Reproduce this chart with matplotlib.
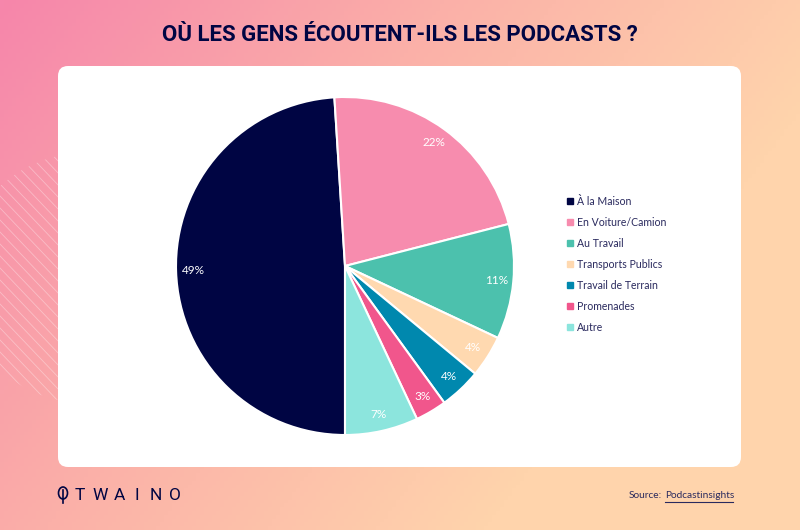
import numpy as np
import matplotlib.pyplot as plt
from matplotlib.colors import LinearSegmentedColormap
from matplotlib.patches import FancyBboxPatch, Circle, Ellipse
from matplotlib.lines import Line2D

# Data
labels = ['À la Maison', 'En Voiture/Camion', 'Au Travail', 'Transports Publics',
          'Travail de Terrain', 'Promenades', 'Autre']
values = [49, 22, 11, 4, 4, 3, 7]
colors = ['#000543', '#F78CAE', '#4CC1AD', '#FFD9B0', '#0088AE', '#F1568C', '#8CE5DD']

navy = '#000543'
W, H = 800, 530
thin = ['Lato', 'DejaVu Sans']

fig = plt.figure(figsize=(W/100, H/100), dpi=100)

# Background in pixel coordinates
bg = fig.add_axes([0, 0, 1, 1])

xx, yy = np.meshgrid(np.linspace(0, 1, 200), np.linspace(0, 1, 140))
grad = np.clip(0.9*xx + 0.45*yy, 0, 1)
cmap = LinearSegmentedColormap.from_list('bg', ['#F686AB', '#FBB0A8', '#FFD4AC'])
bg.imshow(grad, cmap=cmap, extent=(0, W, H, 0), aspect='auto', vmin=0, vmax=1)

# Hatch on the left, clipped to a circle
clip = Circle((85, 278), 125, transform=bg.transData)
for k in np.arange(-200, 600, 12):
    ln, = bg.plot([0, 200], [k, k + 210], color='white', lw=0.6, alpha=0.35)
    ln.set_clip_path(clip)
bg.set_xlim(0, W)
bg.set_ylim(H, 0)
bg.axis('off')

# Card
bg.add_patch(FancyBboxPatch((66, 74), 667, 385, boxstyle='round,pad=8,rounding_size=10',
                            fc='white', ec='none', zorder=3))

bg.text(400, 35, 'OÙ LES GENS ÉCOUTENT-ILS LES PODCASTS ?', ha='center', va='center',
        fontsize=16, fontweight='bold', family='Roboto', color=navy, zorder=4)

# Footer
logo_x = [80, 100, 119, 137, 156, 175]
for x, ch in zip(logo_x, 'TWAINO'):
    bg.text(x, 496, ch, ha='center', va='center', fontsize=12.5, family='Roboto',
            color=navy, zorder=4)
bg.add_patch(Ellipse((63, 493), 9, 12, fc='none', ec=navy, lw=1.2, zorder=4))
bg.plot([63, 63], [490, 503], color=navy, lw=1.2, zorder=4)
bg.text(629, 495, 'Source:', ha='left', va='center', fontsize=7.3, family=thin,
        color='#2A2A5E', zorder=4)
bg.text(665, 495, 'Podcastinsights', ha='left', va='center', fontsize=7.3, family=thin,
        color='#2A2A5E', zorder=4)
bg.plot([665, 733], [502, 502], color='#2A2A5E', lw=0.8, zorder=4)

# Pie, center (345, 266), radius 169 px
r = 169
ax = fig.add_axes([(345 - r)/W, 1 - (266 + r)/H, 2*r/W, 2*r/H])
ax.set_zorder(5)
wedges, texts, autotexts = ax.pie(values, colors=colors, startangle=270, counterclock=False,
                                  radius=1, autopct='%d%%', pctdistance=0.9,
                                  wedgeprops={'edgecolor': 'white', 'linewidth': 1.5},
                                  textprops={'color': 'white', 'fontsize': 8.5, 'family': thin})
ax.set_xlim(-1, 1)
ax.set_ylim(-1, 1)

# Legend
handles = [Line2D([], [], marker='s', ls='none', ms=4.2, color=c) for c in colors]
leg = bg.legend(handles, labels, loc='upper left', bbox_to_anchor=(559.5/W, 1 - 196/H),
                frameon=False, fontsize=7.6, labelspacing=0.95, handletextpad=-0.33,
                borderpad=0, borderaxespad=0)
leg.set_zorder(6)
for t in leg.get_texts():
    t.set_color('#2A2A5E')
    t.set_family(thin)

fig.savefig('out.png', dpi=100)
